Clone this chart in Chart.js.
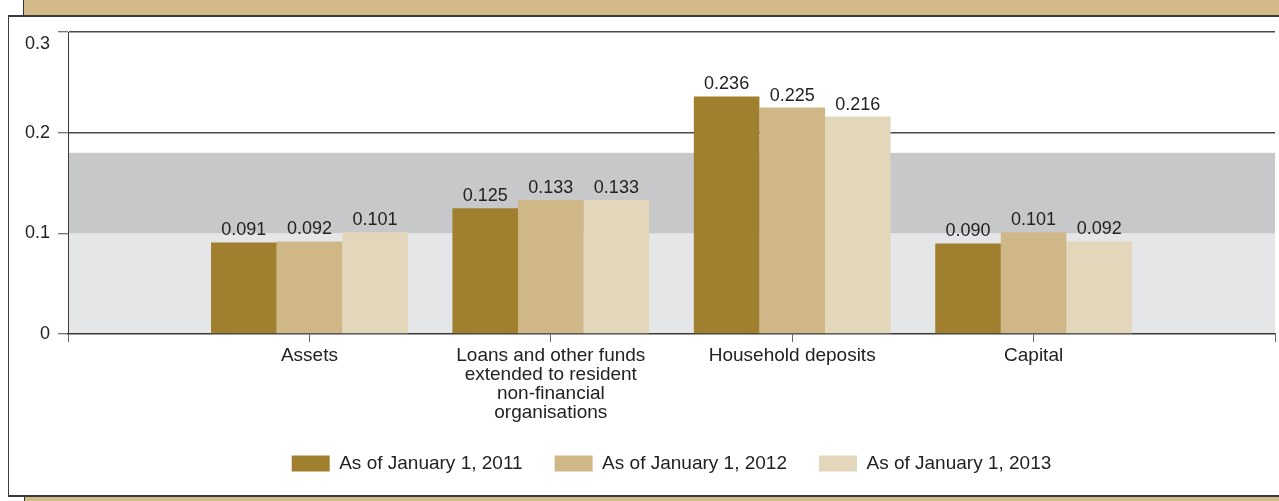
<html>

<head>
    <script src="https://cdn.jsdelivr.net/npm/chart.js@4.4.1/dist/chart.umd.min.js"></script>

    <style>
        body {
            margin: 0;
            width: 1279px;
            height: 501px;
            overflow: hidden;
            background-color: #ffffff;
            position: relative;
        }

        .band-top {
            position: absolute;
            left: 23px;
            top: 0;
            width: 1300px;
            height: 15px;
            background-color: #d2b988;
            border-left: 1px solid #333;
        }

        .panel {
            position: absolute;
            left: 8px;
            top: 15px;
            width: 1300px;
            height: 478px;
            background-color: #ffffff;
            border-top: 2px solid #3a3a3a;
            border-left: 1.5px solid #3a3a3a;
            border-bottom: 2px solid #3a3a3a;
        }

        .band-bottom {
            position: absolute;
            left: 24px;
            top: 497px;
            width: 1300px;
            height: 10px;
            background-color: #d2b988;
            border-left: 1px solid #333;
        }

        #myChart {
            position: absolute;
            left: 0;
            top: 0;
        }
    </style>

</head>

<body>
    <div class="band-top"></div>
    <div class="panel"></div>
    <div class="band-bottom"></div>

    <canvas id="myChart" width="1279" height="501"></canvas>

</body>
<script>

    var categories = [
        'Assets',
        ['Loans and other funds', 'extended to resident', 'non-financial', 'organisations'],
        'Household deposits',
        'Capital'
    ];

    var seriesNames = ['As of January 1, 2011', 'As of January 1, 2012', 'As of January 1, 2013'];

    var values2011 = [0.091, 0.125, 0.236, 0.090];
    var values2012 = [0.092, 0.133, 0.225, 0.101];
    var values2013 = [0.101, 0.133, 0.216, 0.092];

    var yTicks = [0, 0.1, 0.2, 0.3];

    // shaded ranges behind the bars
    var bandLight = [0, 0.1];
    var bandDark = [0.1, 0.18];

    var barColors = ['#a0802f', '#d0b788', '#e2d7bb'];

    // empty slots on both ends leave a gap of one step from each side of the axis
    var xLabels = [''].concat(categories, ['']);

    function padSeries(values) {
        return [null].concat(values, [null]);
    }

    var fontFamily = "'Liberation Sans', Arial, sans-serif";
    var labelFont = { family: fontFamily, size: 18 };

    var bandsPlugin = {
        id: 'bands',
        beforeDraw: function (chart) {
            var ctx = chart.ctx;
            var area = chart.chartArea;
            var y = chart.scales.y;
            ctx.save();
            ctx.fillStyle = '#e5e6e8';
            ctx.fillRect(area.left, y.getPixelForValue(bandLight[1]), area.right - area.left,
                y.getPixelForValue(bandLight[0]) - y.getPixelForValue(bandLight[1]));
            ctx.fillStyle = '#c7c8ca';
            ctx.fillRect(area.left, y.getPixelForValue(bandDark[1]), area.right - area.left,
                y.getPixelForValue(bandDark[0]) - y.getPixelForValue(bandDark[1]));
            ctx.restore();
        }
    };

    var valueLabelsPlugin = {
        id: 'valueLabels',
        afterDatasetsDraw: function (chart) {
            var ctx = chart.ctx;
            ctx.save();
            ctx.font = labelFont.size + 'px ' + labelFont.family;
            ctx.fillStyle = '#222';
            ctx.textAlign = 'center';
            ctx.textBaseline = 'alphabetic';
            chart.data.datasets.forEach(function (dataset, i) {
                var meta = chart.getDatasetMeta(i);
                meta.data.forEach(function (bar, j) {
                    var v = dataset.data[j];
                    if (v === null) return;
                    ctx.fillText(v.toFixed(3), bar.x, bar.y - 7);
                });
            });
            ctx.restore();
        }
    };

    // keep the legend centred under the plot rather than the whole canvas
    var legendShiftPlugin = {
        id: 'legendShift',
        afterLayout: function (chart) {
            var legend = chart.legend;
            if (!legend) return;
            var area = chart.chartArea;
            var shift = (area.left + area.right) / 2 - (legend.left + legend.right) / 2;
            legend.left += shift;
            legend.right += shift;
        }
    };

    var paintingCanvas = document.getElementById('myChart').getContext('2d');
    var chart = new Chart(paintingCanvas, {
        type: 'bar',
        data: {
            labels: xLabels,
            datasets: [
                { label: seriesNames[0], backgroundColor: barColors[0], data: padSeries(values2011) },
                { label: seriesNames[1], backgroundColor: barColors[1], data: padSeries(values2012) },
                { label: seriesNames[2], backgroundColor: barColors[2], data: padSeries(values2013) }
            ]
        },
        options: {
            responsive: false,
            animation: false,
            devicePixelRatio: 1,
            categoryPercentage: 0.815,
            barPercentage: 1,
            layout: {
                padding: { top: 32, left: 0, right: 2, bottom: 18 }
            },
            plugins: {
                tooltip: { enabled: false },
                legend: {
                    position: 'bottom',
                    labels: {
                        font: { family: fontFamily, size: 19 },
                        color: '#222',
                        boxWidth: 38,
                        boxHeight: 16,
                        padding: 32
                    }
                }
            },
            scales: {
                x: {
                    offset: false,
                    grid: {
                        offset: false,
                        drawOnChartArea: false,
                        tickLength: 8,
                        tickColor: '#666',
                        tickWidth: 1
                    },
                    border: { display: true, color: '#3a3a3a', width: 1.5 },
                    ticks: {
                        autoSkip: false,
                        maxRotation: 0,
                        padding: 4,
                        color: '#222',
                        font: { family: fontFamily, size: 19, lineHeight: 1.0 }
                    },
                    afterFit: function (scale) {
                        scale.height = 88;
                    }
                },
                y: {
                    min: 0,
                    max: 0.3,
                    afterBuildTicks: function (scale) {
                        scale.ticks = yTicks.map(function (v) { return { value: v }; });
                    },
                    grid: {
                        color: function (ctx) {
                            var v = ctx.tick ? ctx.tick.value : 0;
                            return (v === 0.2 || v === 0.3) ? '#4a4a4a' : 'rgba(0,0,0,0)';
                        },
                        lineWidth: 1.5,
                        tickColor: '#4a4a4a',
                        tickWidth: 1,
                        tickLength: 10
                    },
                    border: { display: true, color: '#3a3a3a', width: 1 },
                    ticks: {
                        padding: 8,
                        color: '#222',
                        font: { family: fontFamily, size: 18, lineHeight: 1.3 },
                        callback: function (v) {
                            if (v === 0) return '0';
                            // top label sits just under its line
                            if (v === 0.3) return ['', v.toFixed(1)];
                            return v.toFixed(1);
                        }
                    },
                    afterFit: function (scale) {
                        scale.width = 68;
                    }
                }
            }
        },
        plugins: [bandsPlugin, valueLabelsPlugin, legendShiftPlugin]
    });

</script>

</html>
